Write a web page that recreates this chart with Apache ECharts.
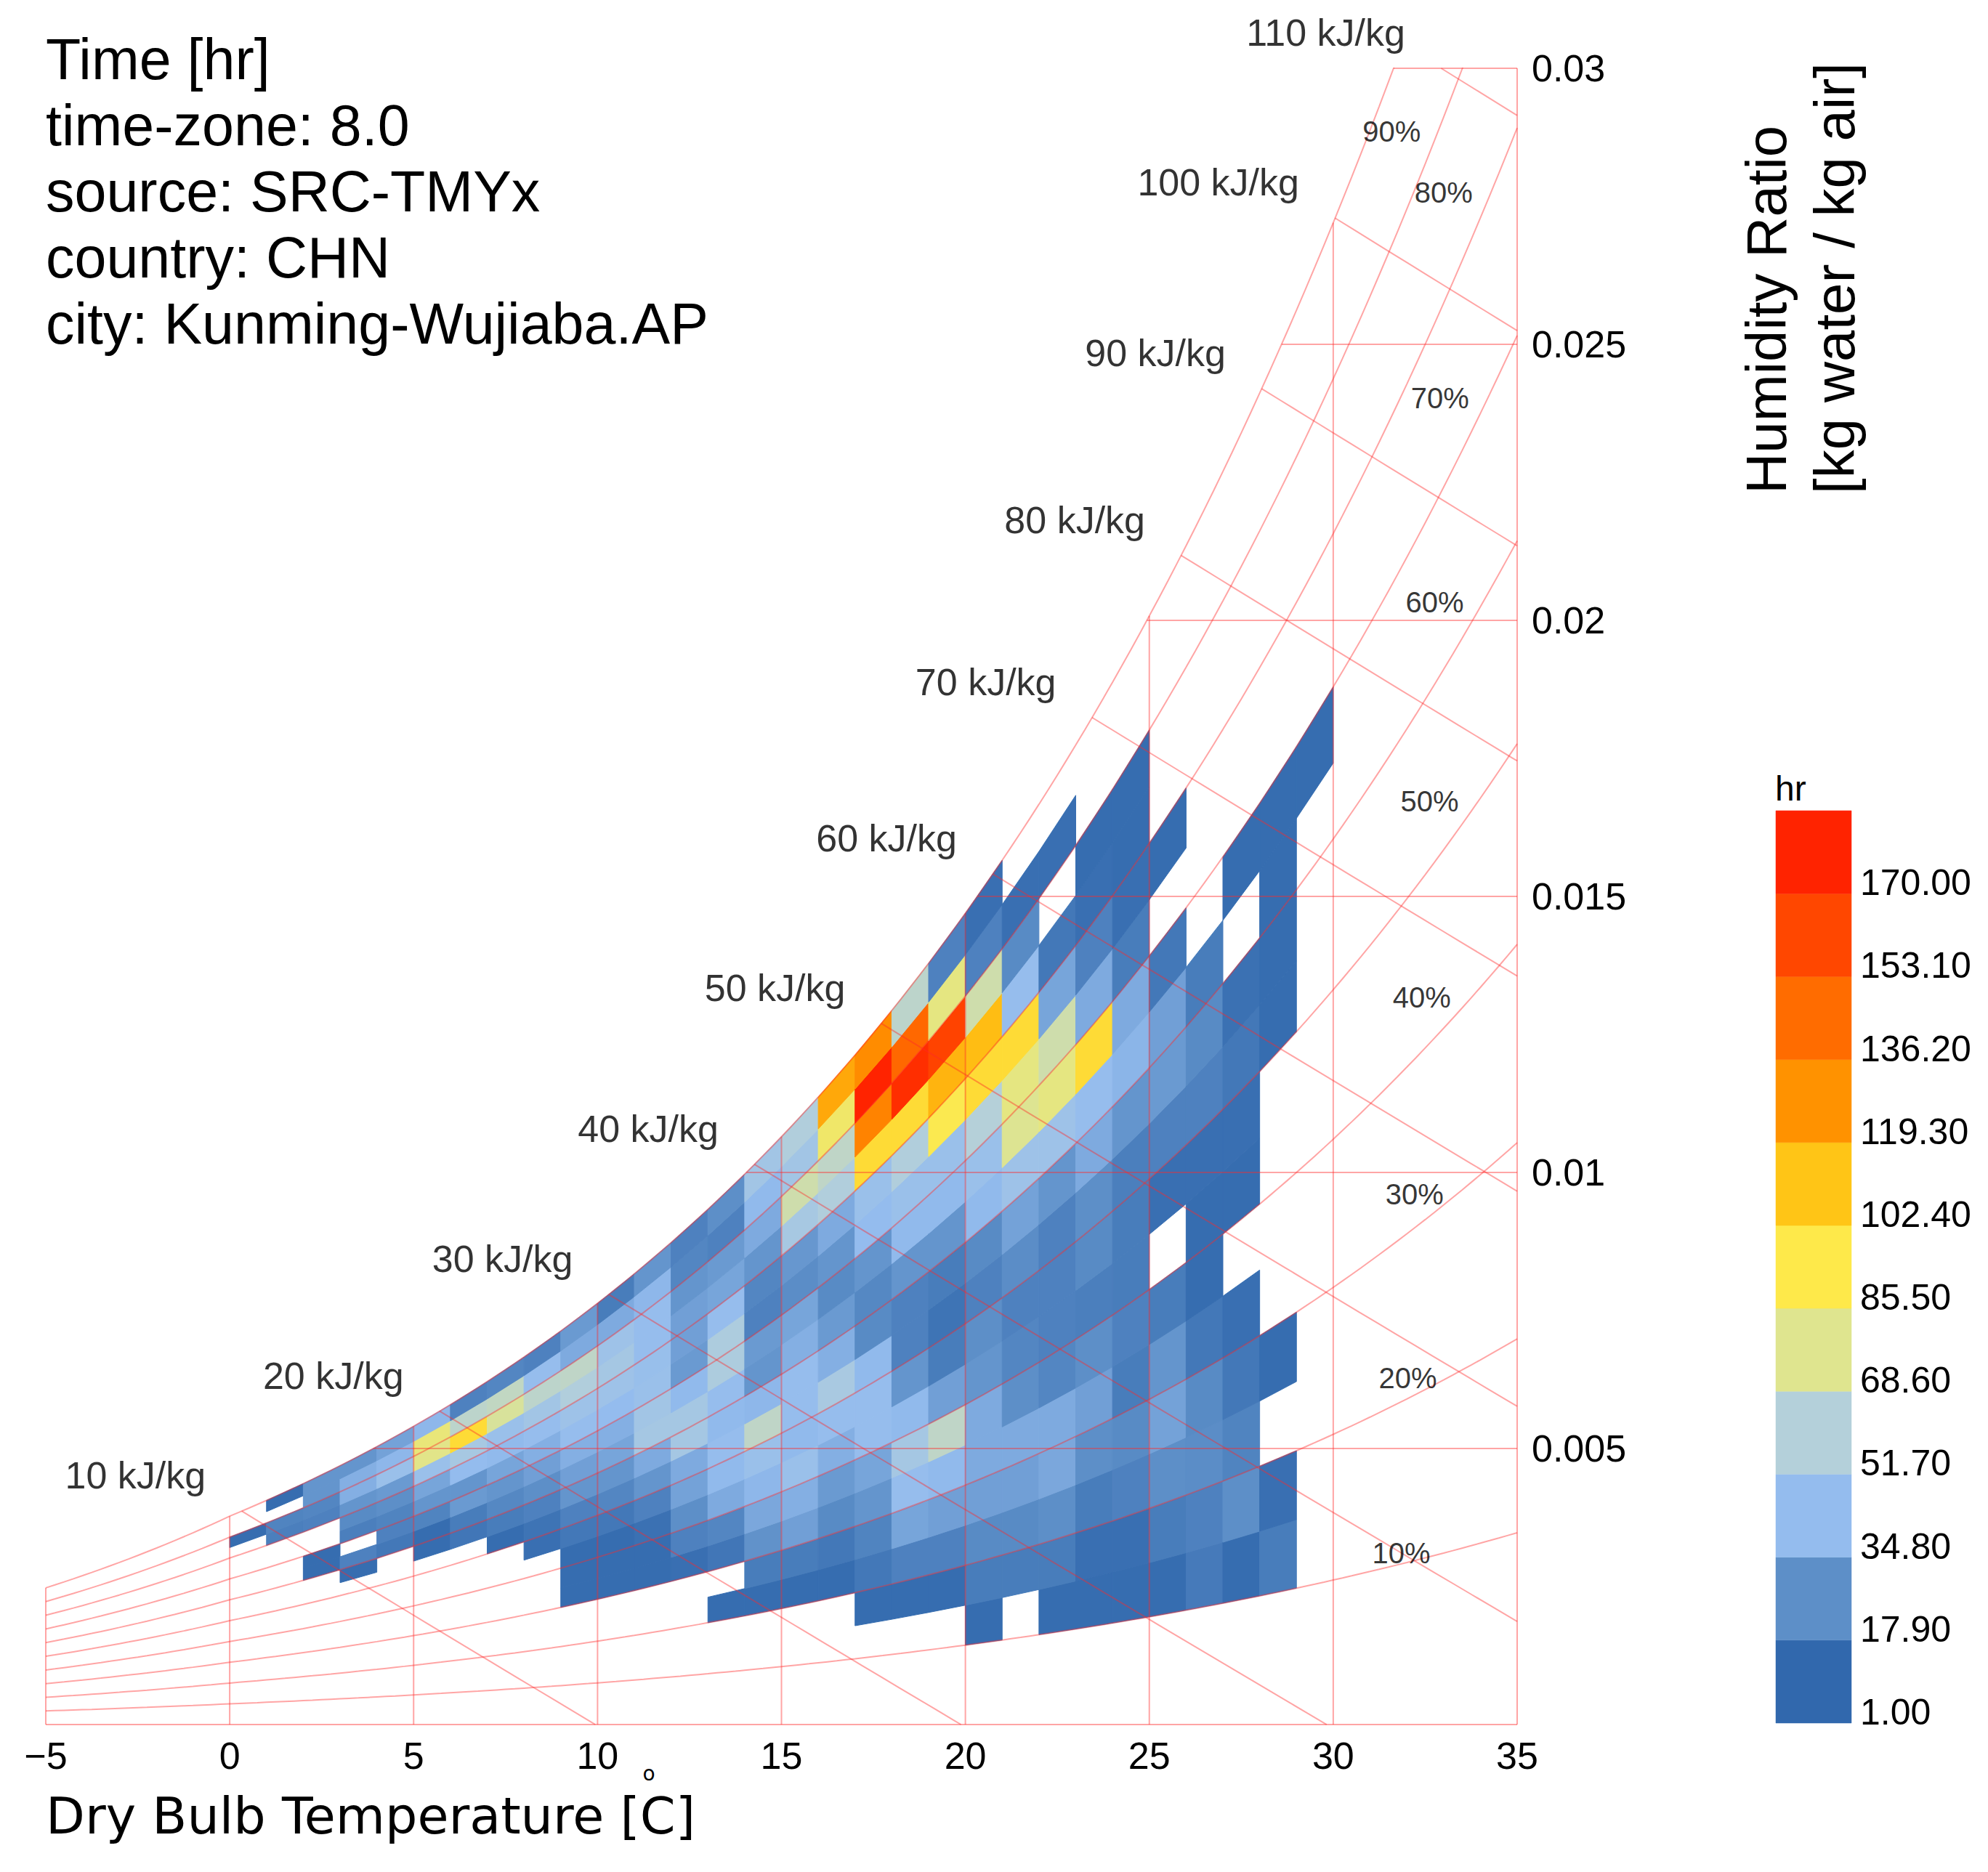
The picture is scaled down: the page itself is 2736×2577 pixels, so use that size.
<!DOCTYPE html>
<html>
<head>
<meta charset="utf-8">
<script src="https://cdn.jsdelivr.net/npm/echarts@6/dist/echarts.min.js"></script>
<style>html,body{margin:0;padding:0;background:#fff}#c{width:2736px;height:2577px}</style>
</head>
<body>
<div id="c"></div>
<script>
const _ = null;
// ---------- data ----------
const tempBins = [0,1,2,3,4,5,6,7,8,9,10,11,12,13,14,15,16,17,18,19,20,21,22,23,24,25,26,27,28,29]; // lower bound of each 1 C column
const rhBins = [0,5,10,15,20,25,30,35,40,45,50,55,60,65,70,75,80,85,90,95]; // lower bound (%) of each RH band
// hours per RH band (0-5% ... 95-100%) for each temperature column
const h00 = [_,_,_,_,_,_,_,_,_,_,_,_,_,_,_,_,_,3,_,_];
const h01 = [_,_,_,_,_,_,_,_,_,_,_,_,_,_,_,_,11,13,_,3];
const h02 = [_,_,_,_,_,_,_,_,_,_,_,_,3,3,_,_,12,14,20,20];
const h03 = [_,_,_,_,_,_,_,_,_,_,_,3,12,_,11,16,20,30,30,20];
const h04 = [_,_,_,_,_,_,_,_,_,_,_,_,8,12,13,18,22,38,33,25];
const h05 = [_,_,_,_,_,_,_,_,_,_,_,3,3,13,20,26,38,70,74,33];
const h06 = [_,_,_,_,_,_,_,_,_,_,_,7,10,22,20,35,45,92,55,12];
const h07 = [_,_,_,_,_,_,_,_,_,_,3,10,15,20,26,34,38,66,57,14];
const h08 = [_,_,_,_,_,_,_,_,_,4,6,12,18,24,30,36,42,55,36,12];
const h09 = [_,_,_,_,_,_,3,3,3,8,12,20,24,30,36,40,50,56,28,22];
const h10 = [_,_,_,_,_,_,3,3,3,8,14,20,26,30,35,40,44,40,28,10];
const h11 = [_,_,_,_,_,_,3,3,5,12,20,28,44,42,38,37,36,36,33,20];
const h12 = [_,_,_,_,_,_,4,12,18,25,28,44,44,34,22,24,24,20,14,12];
const h13 = [_,_,_,_,3,_,7,14,28,34,36,34,36,48,48,36,26,22,12,18];
const h14 = [_,_,_,_,3,10,19,27,33,38,56,33,20,22,12,14,20,28,34,42];
const h15 = [_,_,_,_,3,10,24,30,38,34,36,36,30,26,17,21,45,62,42,50];
const h16 = [_,_,_,_,3,8,16,22,30,36,46,30,22,16,20,28,50,56,78,112];
const h17 = [_,_,_,3,8,13,20,26,36,36,34,16,15,20,35,38,92,126,172,122];
const h18 = [_,_,_,3,12,26,36,44,34,20,12,12,20,34,38,50,92,165,138,55];
const h19 = [_,_,_,3,12,24,34,56,24,10,6,10,20,34,38,84,108,155,72,12];
const h20 = [_,_,3,10,16,24,28,28,20,18,12,16,34,38,52,92,105,62,12,4];
const h21 = [_,_,_,10,16,24,28,18,14,12,17,25,40,68,72,92,36,16,4,_];
const h22 = [_,_,3,10,18,27,28,14,12,12,12,20,40,72,62,26,8,_,4,_];
const h23 = [_,_,3,4,10,18,24,18,11,16,18,28,36,92,28,12,4,3,_,_];
const h24 = [_,_,3,4,12,16,10,12,10,10,11,20,32,28,10,4,3,3,_,_];
const h25 = [_,_,3,10,18,25,20,10,_,4,12,22,24,8,_,3,_,_,_,_];
const h26 = [_,_,9,12,17,16,8,3,3,4,12,16,10,_,_,_,_,_,_,_];
const h27 = [_,_,3,18,13,8,4,_,3,4,8,5,_,3,_,_,_,_,_,_];
const h28 = [_,_,10,4,_,3,_,_,_,_,3,3,3,3,_,_,_,_,_,_];
const h29 = [_,_,_,_,_,_,_,_,_,_,_,_,_,3,_,_,_,_,_,_];
const hourColumns = [h00,h01,h02,h03,h04,h05,h06,h07,h08,h09,h10,h11,h12,h13,h14,h15,h16,h17,h18,h19,h20,h21,h22,h23,h24,h25,h26,h27,h28,h29];

const legendLabels = ['1.00','17.90','34.80','51.70','68.60','85.50','102.40','119.30','136.20','153.10','170.00'];
const legendColors = ['#3168AD','#5D8FC8','#94BCEE','#B4D0DA','#DFE58F','#FEE94A','#FFC516','#FF9200','#FF6C00','#FF4700','#FF2300'];
const colorMin = 1, colorMax = 170;

const tempTicks = [-5,0,5,10,15,20,25,30,35];
const hrTicks = [0.005,0.01,0.015,0.02,0.025,0.03];
const rhLines = [10,20,30,40,50,60,70,80,90,100];
const enthalpyLines = [10,20,30,40,50,60,70,80,90,100,110];
const rhLabels = ['10%','20%','30%','40%','50%','60%','70%','80%','90%'];
const infoLines = ['Time [hr]','time-zone: 8.0','source: SRC-TMYx','country: CHN','city: Kunming-Wujiaba.AP'];

// ---------- layout (annotation anchors in chart units) ----------
const rhLabelAnchors = [[31.85,0.00311],[32.03,0.00627],[32.21,0.00961],[32.41,0.01317],[32.62,0.01672],[32.76,0.02033],[32.90,0.02402],[33.00,0.02775],[31.59,0.02885]];

// ---------- psychrometrics ----------
const P_ATM = 101325;
function pws(T){
  const K = T + 273.15;
  if (T >= 0) {
    return Math.exp(-5.8002206e3/K + 1.3914993 - 4.8640239e-2*K + 4.1764768e-5*K*K - 1.4452093e-8*K*K*K + 6.5459673*Math.log(K));
  }
  return Math.exp(-5.6745359e3/K + 6.3925247 - 9.677843e-3*K + 6.2215701e-7*K*K + 2.0747825e-9*K*K*K - 9.484024e-13*K*K*K*K + 4.1635019*Math.log(K));
}
function hrAt(T, rh){ const pw = rh*pws(T); return 0.621945*pw/(P_ATM - pw); }
function enthW(T, h){ return (h - 1.006*T)/(2501 + 1.86*T); }
function bisect(f, lo, hi){ for (let k=0;k<80;k++){ const m=(lo+hi)/2; if (f(lo)*f(m) <= 0) hi=m; else lo=m; } return (lo+hi)/2; }

const T_MIN = tempTicks[0], T_MAX = tempTicks[tempTicks.length-1];
const W_MAX = hrTicks[hrTicks.length-1];
const FONT = '"Liberation Sans", Arial, sans-serif';
const LINE_COLOR = 'rgba(255,40,40,0.42)';

// ---------- mesh data ----------
const meshData = [];
hourColumns.forEach((col, c) => {
  col.forEach((v, i) => { if (v !== null) meshData.push([tempBins[c], rhBins[i], v]); });
});
const tStep = tempBins[1] - tempBins[0];
const rhStep = rhBins[1] - rhBins[0];

// ---------- chart furniture lines ----------
const lineSeries = [];
function addLine(pts){
  lineSeries.push({type:'line', data: pts, symbol:'none', silent:true, z:3, animation:false,
    lineStyle:{color: LINE_COLOR, width: 2}, xAxisIndex:0, yAxisIndex:0});
}
rhLines.forEach(r => {
  const pts = [];
  for (let T = T_MIN; T <= T_MAX + 1e-9; T += 0.25) {
    const w = hrAt(T, r/100); pts.push([T, w]); if (w > W_MAX) break;
  }
  addLine(pts);
});
tempTicks.forEach(T => addLine([[T, 0], [T, Math.min(hrAt(T, 1), W_MAX)]]));
[0].concat(hrTicks).forEach(W => {
  const t0 = W === 0 ? T_MIN : Math.max(T_MIN, bisect(t => hrAt(t,1) - W, -40, 60));
  addLine([[t0, W], [T_MAX, W]]);
});
const enthLabelData = [];
enthalpyLines.forEach(h => {
  let ts = bisect(t => enthW(t, h) - hrAt(t, 1), -30, 60);
  let ws = hrAt(ts, 1);
  if (ws > W_MAX) { ws = W_MAX; ts = (h - W_MAX*2501)/(1.006 + W_MAX*1.86); }
  const te = Math.min(h/1.006, T_MAX);
  const pts = [];
  for (let T = ts; T < te; T += 0.5) pts.push([T, enthW(T, h)]);
  pts.push([te, enthW(te, h)]);
  addLine(pts);
  enthLabelData.push([ts, ws]);
});

// ---------- chart ----------
const chart = echarts.init(document.getElementById('c'), null, {renderer:'svg', width:2736, height:2577});
const option = {
  animation: false,
  backgroundColor: '#fff',
  grid: [
    {left: 63, right: 648, top: 94, bottom: 203},
    {left: 2444, top: 1116, width: 104, height: 1256}
  ],
  xAxis: [
    {type:'value', gridIndex:0, min:T_MIN, max:T_MAX, interval:5,
     axisLine:{show:false}, axisTick:{show:false}, splitLine:{show:false},
     axisLabel:{fontSize:52, color:'#000', fontFamily:FONT, margin:17,
       formatter: v => v < 0 ? '\u2212' + Math.abs(v) : String(v)}},
    {type:'value', gridIndex:1, min:0, max:1, show:false}
  ],
  yAxis: [
    {type:'value', gridIndex:0, min:0, max:W_MAX, interval:0.005, position:'right',
     axisLine:{show:false}, axisTick:{show:false}, splitLine:{show:false},
     axisLabel:{fontSize:52, color:'#000', fontFamily:FONT, margin:20,
       formatter: v => v === 0 ? '' : String(+v.toFixed(3))}},
    {type:'value', gridIndex:1, min:0, max:legendLabels.length, interval:1, position:'right',
     axisLine:{show:false}, axisTick:{show:false}, splitLine:{show:false},
     axisLabel:{fontSize:50, color:'#000', fontFamily:FONT, margin:12, verticalAlign:'bottom', lineHeight:30,
       formatter: v => legendLabels[Math.round(v)] || ''}}
  ],
  visualMap: [{type:'continuous', show:false, seriesIndex:0, dimension:2, min:colorMin, max:colorMax,
    inRange:{color: legendColors}}],
  series: [
    {type:'custom', name:'hours', data: meshData, xAxisIndex:0, yAxisIndex:0, z:2, silent:true,
     renderItem: (params, api) => {
       const t0 = api.value(0), t1 = t0 + tStep;
       const r0 = api.value(1)/100, r1 = (api.value(1) + rhStep)/100;
       const pts = [[t0, hrAt(t0, r0)], [t1, hrAt(t1, r0)], [t1, hrAt(t1, r1)], [t0, hrAt(t0, r1)]].map(p => api.coord(p));
       const col = api.visual('color');
       return {type:'polygon', shape:{points: pts}, style:{fill: col, stroke: col, lineWidth: 1}};
     }},
    {type:'custom', name:'legend', data: legendColors.map((c, i) => [0, i]), xAxisIndex:1, yAxisIndex:1, silent:true,
     renderItem: (params, api) => {
       const i = api.value(1);
       const a = api.coord([0, i]), b = api.coord([1, i + 1]);
       return {type:'rect', shape:{x:a[0], y:b[1], width:b[0]-a[0], height:a[1]-b[1]},
               style:{fill: legendColors[params.dataIndex], stroke: legendColors[params.dataIndex], lineWidth:0.5}};
     }},
    {type:'scatter', data: enthLabelData, xAxisIndex:0, yAxisIndex:0, symbolSize:1, clip:false, silent:true, z:5,
     itemStyle:{color:'rgba(0,0,0,0)'},
     label:{show:true, position:'left', distance:49, offset:[0,-49], fontSize:52, color:'#000', fontFamily:FONT,
       formatter: p => enthalpyLines[p.dataIndex] + ' kJ/kg'}},
    {type:'scatter', data: rhLabelAnchors, xAxisIndex:0, yAxisIndex:0, symbolSize:1, clip:false, silent:true, z:5,
     itemStyle:{color:'rgba(0,0,0,0)'},
     label:{show:true, position:'inside', fontSize:40, color:'#000', fontFamily:FONT,
       formatter: p => rhLabels[p.dataIndex]}}
  ].concat(lineSeries),
  graphic: [
    {type:'text', x:63, y:36, style:{text: infoLines.join('\n'), fontSize:79, lineHeight:91, fontFamily:FONT, fill:'#000',
      textAlign:'left', align:'left', textVerticalAlign:'top', verticalAlign:'top'}},
    {type:'text', x:63, y:2500, style:{text:'Dry Bulb Temperature [C]', fontSize:70, lineHeight:58, fontFamily:'"DejaVu Sans", sans-serif', fill:'#000',
      textAlign:'left', align:'left', textVerticalAlign:'middle', verticalAlign:'middle'}},
    {type:'text', x:893, y:2441, style:{text:'o', fontSize:28, lineHeight:24, fontFamily:'"DejaVu Sans", sans-serif', fill:'#000',
      textAlign:'center', align:'center', textVerticalAlign:'middle', verticalAlign:'middle'}},
    {type:'text', x:2478, y:680, rotation: Math.PI/2, style:{text:'Humidity Ratio\n[kg water / kg air]', fontSize:78, lineHeight:94,
      fontFamily:FONT, fill:'#000', textAlign:'left', align:'left', textVerticalAlign:'middle', verticalAlign:'middle'}},
    {type:'text', x:2443, y:1085, style:{text:'hr', fontSize:48, fontFamily:FONT, fill:'#000',
      textAlign:'left', align:'left', textVerticalAlign:'middle', verticalAlign:'middle'}}
  ]
};
chart.setOption(option);
</script>
</body>
</html>
